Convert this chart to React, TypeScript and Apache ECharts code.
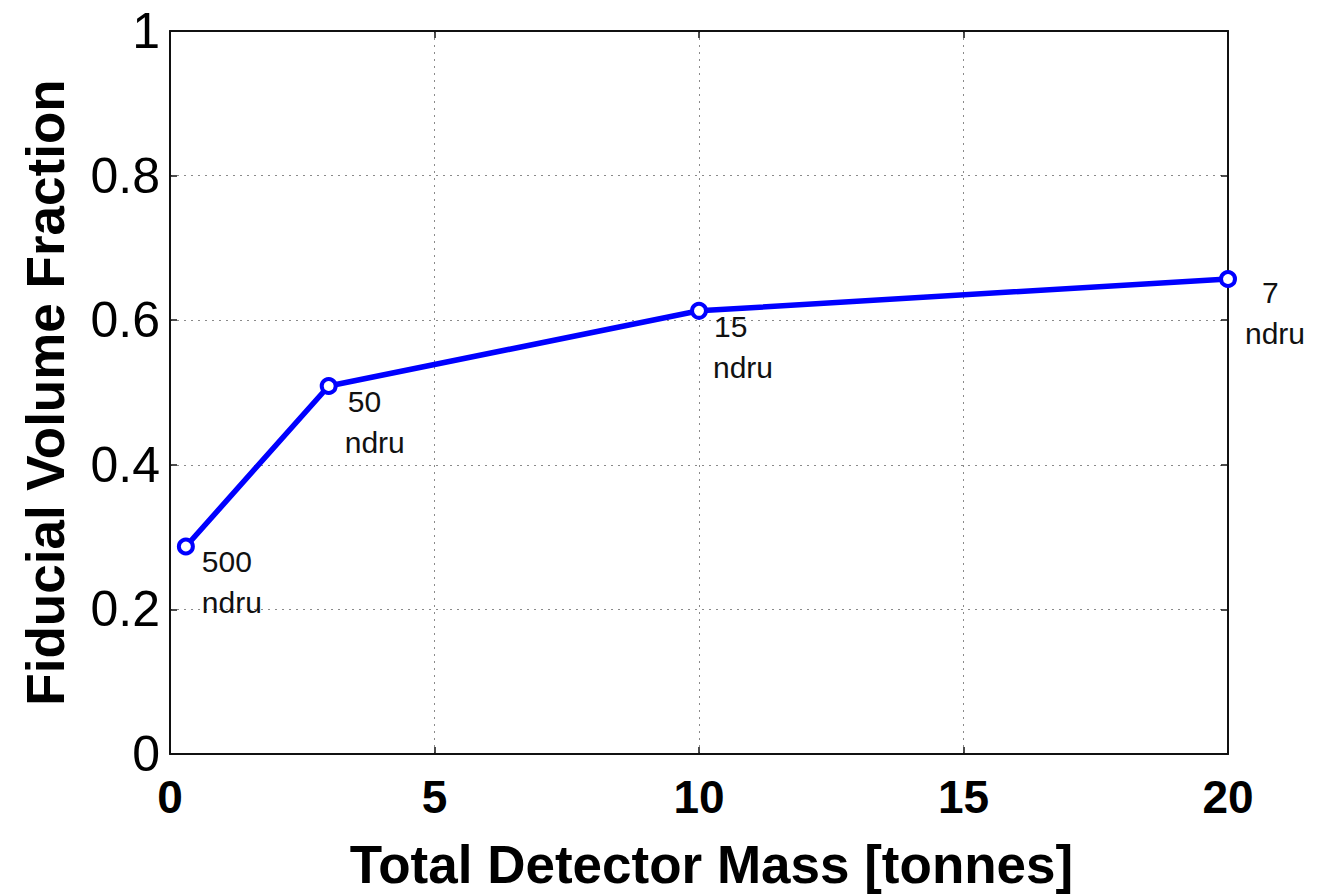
import React, { useEffect, useRef } from "react";
import * as echarts from "echarts";

// Detector mass (tonnes) vs. fiducial volume fraction, with background rate per point
const massTonnes = [0.3, 3.0, 10, 20];
const fiducialFraction = [0.287, 0.509, 0.613, 0.657];
const thresholdLabels = ["500", "50", "15", "7"];
const thresholdUnit = "ndru";

const xAxisTitle = "Total Detector Mass [tonnes]";
const yAxisTitle = "Fiducial Volume Fraction";

// label placement relative to each marker
const labelOffsets: [number, number][] = [
  [25, 4],
  [25, 4],
  [23, 4],
  [26, 2],
];
const firstLineIndent = [0, 3, 1, 17];

const BLUE = "#0000ff";
const SANS = "'Liberation Sans', Arial, Helvetica, sans-serif";

export default function App() {
  const ref = useRef<HTMLDivElement>(null);

  useEffect(() => {
    if (!ref.current) return;
    const chart = echarts.init(ref.current, undefined, { renderer: "svg" });

    const gridLine = {
      show: true,
      lineStyle: { color: "#8a8a8a", width: 1, type: [2, 5] as number[] },
    };
    const frameLine = { show: true, onZero: false, lineStyle: { color: "#111", width: 2 } };
    const innerTick = { show: true, inside: true, length: 7, lineStyle: { color: "#111", width: 1.5 } };

    const points = massTonnes.map((x, i) => ({
      value: [x, fiducialFraction[i]],
      label: {
        show: true,
        position: labelOffsets[i],
        align: "left",
        verticalAlign: "top",
        formatter: `{v|${thresholdLabels[i]}}\n{u|${thresholdUnit}}`,
        rich: {
          v: {
            fontFamily: SANS,
            fontSize: 30,
            color: "#111",
            lineHeight: 41,
            padding: [0, 0, 0, firstLineIndent[i]],
          },
          u: { fontFamily: SANS, fontSize: 30, color: "#111", lineHeight: 41 },
        },
      },
    }));

    chart.setOption({
      animation: false,
      backgroundColor: "#ffffff",
      grid: { left: 170, top: 31, right: 90, bottom: 141, containLabel: false },
      xAxis: [
        {
          type: "value",
          min: 0,
          max: 20,
          interval: 5,
          position: "bottom",
          name: xAxisTitle,
          nameLocation: "middle",
          nameGap: 84,
          nameTextStyle: {
            fontFamily: SANS,
            fontWeight: "bold",
            fontSize: 53,
            color: "#000",
            padding: [0, 0, 0, 25],
          },
          axisLine: frameLine,
          axisTick: innerTick,
          axisLabel: {
            margin: 20,
            fontFamily: SANS,
            fontWeight: "bold",
            fontSize: 46,
            color: "#000",
          },
          splitLine: gridLine,
        },
        {
          type: "value",
          min: 0,
          max: 20,
          interval: 5,
          position: "top",
          axisLine: frameLine,
          axisTick: innerTick,
          axisLabel: { show: false },
          splitLine: { show: false },
        },
      ],
      yAxis: [
        {
          type: "value",
          min: 0,
          max: 1,
          interval: 0.2,
          position: "left",
          name: yAxisTitle,
          nameLocation: "middle",
          nameGap: 98,
          nameRotate: 90,
          nameTextStyle: {
            fontFamily: SANS,
            fontWeight: "bold",
            fontSize: 53,
            color: "#000",
          },
          axisLine: frameLine,
          axisTick: innerTick,
          axisLabel: {
            margin: 10,
            fontFamily: SANS,
            fontSize: 50,
            color: "#000",
          },
          splitLine: gridLine,
        },
        {
          type: "value",
          min: 0,
          max: 1,
          interval: 0.2,
          position: "right",
          axisLine: frameLine,
          axisTick: innerTick,
          axisLabel: { show: false },
          splitLine: { show: false },
        },
      ],
      series: [
        {
          type: "line",
          xAxisIndex: 0,
          yAxisIndex: 0,
          data: points,
          symbol: "circle",
          symbolSize: 14,
          showAllSymbol: true,
          lineStyle: { color: BLUE, width: 5.5 },
          itemStyle: { color: "#ffffff", borderColor: BLUE, borderWidth: 4 },
          z: 5,
        },
      ],
    });

    return () => chart.dispose();
  }, []);

  return (
    <div
      ref={ref}
      style={{ position: "fixed", left: 0, top: 0, width: 1318, height: 896, background: "#fff" }}
    />
  );
}
